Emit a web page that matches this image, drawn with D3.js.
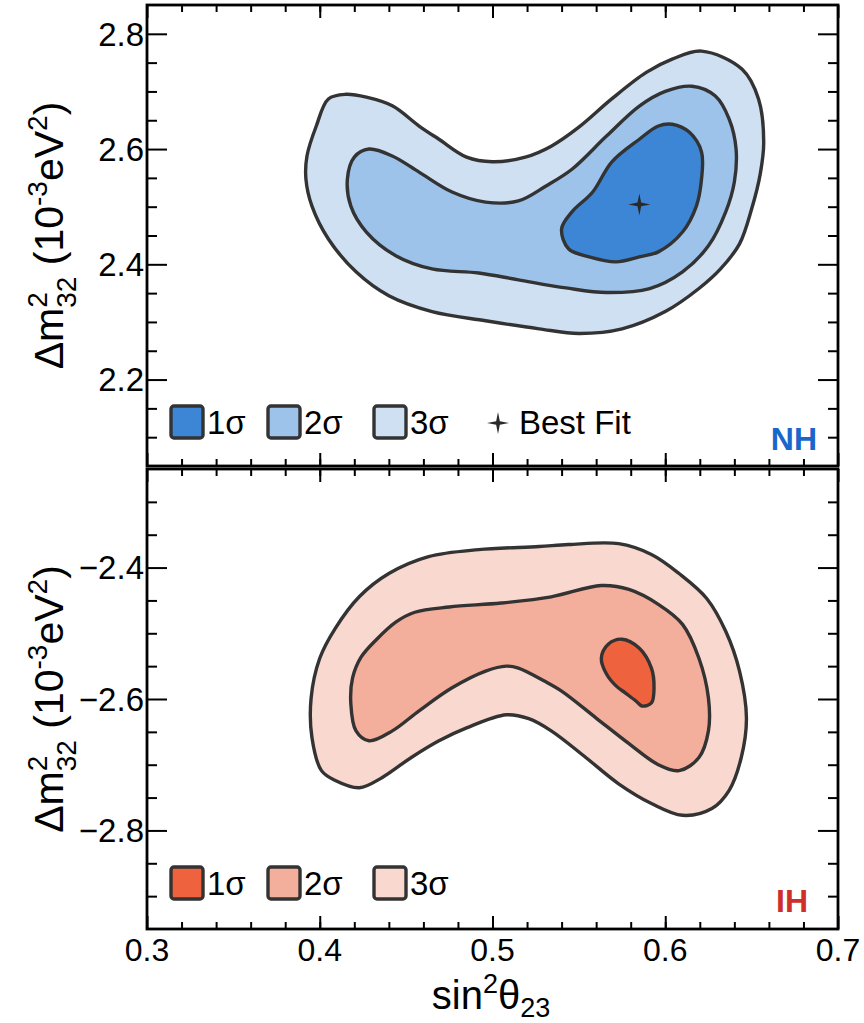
<!DOCTYPE html>
<html>
<head>
<meta charset="utf-8">
<script src="https://cdn.jsdelivr.net/npm/d3@7"></script>
<style>
  body { margin: 0; background: #fff; }
  text { font-family: "Liberation Sans", Arial, Helvetica, sans-serif; }
</style>
</head>
<body>
<div id="chart"></div>
<script>
const width = 864;
const height = 1023;

// x axis: sin^2(theta23)
const xDomain = [0.3, 0.7];
const xMajorTicks = [0.3, 0.4, 0.5, 0.6, 0.7];
const xTickLabels = ["0.3", "0.4", "0.5", "0.6", "0.7"];
const xMinorTicks = d3.range(0.32, 0.7, 0.02);

// NH panel
const nhDomain = [2.05, 2.85];
const nhMajorTicks = [2.2, 2.4, 2.6, 2.8];
const nhTickLabels = ["2.2", "2.4", "2.6", "2.8"];
const nhMinorTicks = [2.1, 2.15, 2.25, 2.3, 2.35, 2.45, 2.5, 2.55, 2.65, 2.7, 2.75];

// IH panel
const ihDomain = [-2.95, -2.25];
const ihMajorTicks = [-2.8, -2.6, -2.4];
const ihTickLabels = ["\u22122.8", "\u22122.6", "\u22122.4"];
const ihMinorTicks = [-2.9, -2.85, -2.75, -2.7, -2.65, -2.55, -2.5, -2.45, -2.35, -2.3];

const sigmaLabels = ["1\u03c3", "2\u03c3", "3\u03c3"];
const nhColors = ["#3d86d6", "#9dc3ea", "#cfe0f3"];
const ihColors = ["#ee623d", "#f4ae9c", "#f9d8cf"];

// contour outlines, [sin2theta23, dm2_32]
const nh3sigma = [
  [0.415, 2.695], [0.427, 2.690], [0.442, 2.675], [0.4575, 2.640], [0.469, 2.617],
  [0.485, 2.586], [0.500, 2.578], [0.519, 2.586], [0.534, 2.605], [0.550, 2.638],
  [0.569, 2.687], [0.589, 2.733], [0.604, 2.756], [0.621, 2.770], [0.6445, 2.7385],
  [0.654, 2.687], [0.657, 2.612], [0.655, 2.557], [0.650, 2.496], [0.643, 2.4355],
  [0.632, 2.392], [0.6195, 2.358], [0.600, 2.318], [0.575, 2.288], [0.550, 2.280],
  [0.527, 2.288], [0.496, 2.302], [0.465, 2.318], [0.440, 2.3455], [0.421, 2.387],
  [0.405, 2.444], [0.3955, 2.501], [0.392, 2.548], [0.3926, 2.588], [0.398, 2.640],
  [0.405, 2.687]
];
const nh2sigma = [
  [0.4285, 2.600], [0.442, 2.588], [0.4575, 2.560], [0.4766, 2.5255], [0.496, 2.508],
  [0.515, 2.510], [0.531, 2.536], [0.546, 2.565], [0.566, 2.6225], [0.585, 2.6745],
  [0.600, 2.700], [0.6155, 2.709], [0.629, 2.692], [0.637, 2.652], [0.641, 2.600],
  [0.640, 2.543], [0.635, 2.491], [0.625, 2.432], [0.610, 2.387], [0.591, 2.358],
  [0.566, 2.351], [0.5425, 2.359], [0.515, 2.373], [0.492, 2.385], [0.465, 2.392],
  [0.444, 2.415], [0.427, 2.456], [0.418, 2.501], [0.416, 2.548], [0.420, 2.586]
];
const nh1sigma = [
  [0.604, 2.643], [0.614, 2.629], [0.621, 2.595], [0.621, 2.548], [0.618, 2.501],
  [0.610, 2.456], [0.596, 2.4216], [0.585, 2.413], [0.5715, 2.4043], [0.556, 2.413],
  [0.544, 2.427], [0.540, 2.4615], [0.546, 2.491], [0.558, 2.5255], [0.569, 2.5775],
  [0.585, 2.617], [0.596, 2.640]
];
const nhBestFit = [0.585, 2.504];

const ih3sigma = [
  [0.527, -2.368], [0.544, -2.365], [0.573, -2.3636], [0.592, -2.380], [0.608, -2.409],
  [0.624, -2.447], [0.635, -2.497], [0.643, -2.5576], [0.647, -2.629], [0.644, -2.689],
  [0.637, -2.739], [0.627, -2.7667], [0.610, -2.777], [0.592, -2.759], [0.573, -2.729],
  [0.554, -2.689], [0.534, -2.6485], [0.521, -2.630], [0.508, -2.624], [0.485, -2.644],
  [0.469, -2.6636], [0.453, -2.689], [0.436, -2.7197], [0.423, -2.735], [0.409, -2.724],
  [0.401, -2.709], [0.3955, -2.659], [0.395, -2.5985], [0.400, -2.538], [0.409, -2.4924],
  [0.423, -2.444], [0.440, -2.409], [0.463, -2.3833], [0.492, -2.3727]
];
const ih2sigma = [
  [0.534, -2.4445], [0.563, -2.4273], [0.579, -2.4333], [0.596, -2.456],
  [0.610, -2.4864], [0.6195, -2.538], [0.625, -2.5985], [0.625, -2.6485], [0.6195, -2.689],
  [0.608, -2.709], [0.596, -2.700], [0.579, -2.668], [0.560, -2.629], [0.540, -2.588],
  [0.530, -2.5727], [0.515, -2.553], [0.508, -2.550], [0.496, -2.5576], [0.4766, -2.583],
  [0.4575, -2.618], [0.442, -2.6485], [0.4285, -2.6636], [0.421, -2.6485], [0.418, -2.6076],
  [0.419, -2.568], [0.424, -2.536], [0.433, -2.509], [0.444, -2.483], [0.455, -2.468],
  [0.475, -2.460], [0.505, -2.454]
];
const ih1sigma = [
  [0.575, -2.509], [0.585, -2.5227], [0.592, -2.553], [0.5935, -2.583], [0.592, -2.606],
  [0.5865, -2.6106], [0.583, -2.603], [0.577, -2.591], [0.5715, -2.580], [0.566, -2.562],
  [0.563, -2.538], [0.567, -2.5167]
];

const left = 147, right = 838;
const strokeDark = "#333333";

const svg = d3.select("#chart")
  .append("svg")
  .attr("width", width)
  .attr("height", height);

const x = d3.scaleLinear().domain(xDomain).range([left, right]);

function starPath(cx, cy, r, ri) {
  const pts = [];
  for (let i = 0; i < 8; i++) {
    const a = i * Math.PI / 4 - Math.PI / 2;
    const rr = (i % 2 == 0) ? r : ri;
    pts.push([cx + rr * Math.cos(a), cy + rr * Math.sin(a)]);
  }
  return "M" + pts.map(p => p.join(",")).join("L") + "Z";
}

function makePanel(opts) {
  const y = d3.scaleLinear().domain(opts.domain).range([opts.bottom, opts.top]);
  const g = svg.append("g");

  const lineFunction = d3.line()
    .x(d => x(d[0]))
    .y(d => y(d[1]))
    .curve(d3.curveCatmullRomClosed.alpha(0.5));

  // contours, widest first
  [2, 1, 0].forEach(i => {
    g.append("path")
      .attr("d", lineFunction(opts.contours[i]))
      .attr("fill", opts.colors[i])
      .attr("stroke", strokeDark)
      .attr("stroke-width", 3.4)
      .attr("stroke-linejoin", "round");
  });

  if (opts.bestFit) {
    g.append("path")
      .attr("d", starPath(x(opts.bestFit[0]), y(opts.bestFit[1]), 11, 2.6))
      .attr("fill", "#2a2a2a");
  }

  // ticks on all four sides, pointing inwards
  const axes = [
    [d3.axisLeft(y).tickValues(opts.major).tickSize(-20), `translate(${left},0)`],
    [d3.axisLeft(y).tickValues(opts.minor).tickSize(-10), `translate(${left},0)`],
    [d3.axisRight(y).tickValues(opts.major).tickSize(-20), `translate(${right},0)`],
    [d3.axisRight(y).tickValues(opts.minor).tickSize(-10), `translate(${right},0)`],
    [d3.axisTop(x).tickValues(xMajorTicks).tickSize(-13), `translate(0,${opts.top})`],
    [d3.axisTop(x).tickValues(xMinorTicks).tickSize(-7), `translate(0,${opts.top})`],
    [d3.axisBottom(x).tickValues(xMajorTicks).tickSize(-13), `translate(0,${opts.bottom})`],
    [d3.axisBottom(x).tickValues(xMinorTicks).tickSize(-7), `translate(0,${opts.bottom})`]
  ];
  axes.forEach(a => {
    const ag = g.append("g").attr("transform", a[1]).call(a[0].tickFormat(""));
    ag.select(".domain").remove();
    ag.selectAll("line").attr("stroke", "#000").attr("stroke-width", 2);
  });

  // y tick labels
  g.selectAll(".ylab")
    .data(opts.major)
    .join("text")
    .attr("x", left - 3)
    .attr("y", d => y(d))
    .attr("dy", "0.36em")
    .attr("text-anchor", "end")
    .attr("font-size", 33)
    .text((d, i) => opts.labels[i]);

  g.append("rect")
    .attr("x", left)
    .attr("y", opts.top)
    .attr("width", right - left)
    .attr("height", opts.bottom - opts.top)
    .attr("fill", "none")
    .attr("stroke", "#000")
    .attr("stroke-width", 2.8);

  // y axis title
  const cy = (opts.top + opts.bottom) / 2;
  const t = g.append("text")
    .attr("transform", `translate(63,${cy}) rotate(-90)`)
    .attr("text-anchor", "middle")
    .attr("font-size", 41);
  t.append("tspan").text("\u0394m");
  t.append("tspan").attr("font-size", 28).attr("dy", -16).text("2");
  t.append("tspan").attr("font-size", 28).attr("dx", -15.6).attr("dy", 29).text("32");
  t.append("tspan").attr("dy", -13).text(" (10");
  t.append("tspan").attr("font-size", 28).attr("dy", -16).text("-3");
  t.append("tspan").attr("dy", 16).text("eV");
  t.append("tspan").attr("font-size", 28).attr("dy", -16).text("2");
  t.append("tspan").attr("dy", 16).text(")");

  // legend
  const legendX = [171, 268, 374];
  const ly = opts.legendY;
  legendX.forEach((lx, i) => {
    g.append("rect")
      .attr("x", lx).attr("y", ly)
      .attr("width", 32).attr("height", 32)
      .attr("rx", 3)
      .attr("fill", opts.colors[i])
      .attr("stroke", strokeDark)
      .attr("stroke-width", 3.4);
    g.append("text")
      .attr("x", lx + 36).attr("y", ly + 28)
      .attr("font-size", 33)
      .text(sigmaLabels[i]);
  });
  if (opts.bestFit) {
    g.append("path")
      .attr("d", starPath(498, ly + 17, 11, 2.6))
      .attr("fill", "#2a2a2a");
    g.append("text")
      .attr("x", 519).attr("y", ly + 28)
      .attr("font-size", 33)
      .text("Best Fit");
  }

  g.append("text")
    .attr("x", opts.tagX).attr("y", opts.tagY)
    .attr("text-anchor", "end")
    .attr("font-size", 32)
    .attr("font-weight", "bold")
    .attr("fill", opts.tagColor)
    .text(opts.tag);

  return y;
}

makePanel({
  domain: nhDomain, top: 5, bottom: 466,
  major: nhMajorTicks, minor: nhMinorTicks, labels: nhTickLabels,
  contours: [nh1sigma, nh2sigma, nh3sigma], colors: nhColors,
  bestFit: nhBestFit, legendY: 406,
  tag: "NH", tagColor: "#1a67cc", tagX: 817, tagY: 450
});

makePanel({
  domain: ihDomain, top: 469, bottom: 929,
  major: ihMajorTicks, minor: ihMinorTicks, labels: ihTickLabels,
  contours: [ih1sigma, ih2sigma, ih3sigma], colors: ihColors,
  bestFit: null, legendY: 867,
  tag: "IH", tagColor: "#cf2f2a", tagX: 808, tagY: 912
});

// x tick labels
svg.selectAll(".xlab")
  .data(xMajorTicks)
  .join("text")
  .attr("x", d => x(d))
  .attr("y", 961)
  .attr("text-anchor", "middle")
  .attr("font-size", 32)
  .text((d, i) => xTickLabels[i]);

// x axis title
const xt = svg.append("text")
  .attr("x", 491)
  .attr("y", 1009)
  .attr("text-anchor", "middle")
  .attr("font-size", 40);
xt.append("tspan").text("sin");
xt.append("tspan").attr("font-size", 27).attr("dy", -16).text("2");
xt.append("tspan").attr("dy", 16).text("\u03b8");
xt.append("tspan").attr("font-size", 27).attr("dy", 8).text("23");
</script>
</body>
</html>
